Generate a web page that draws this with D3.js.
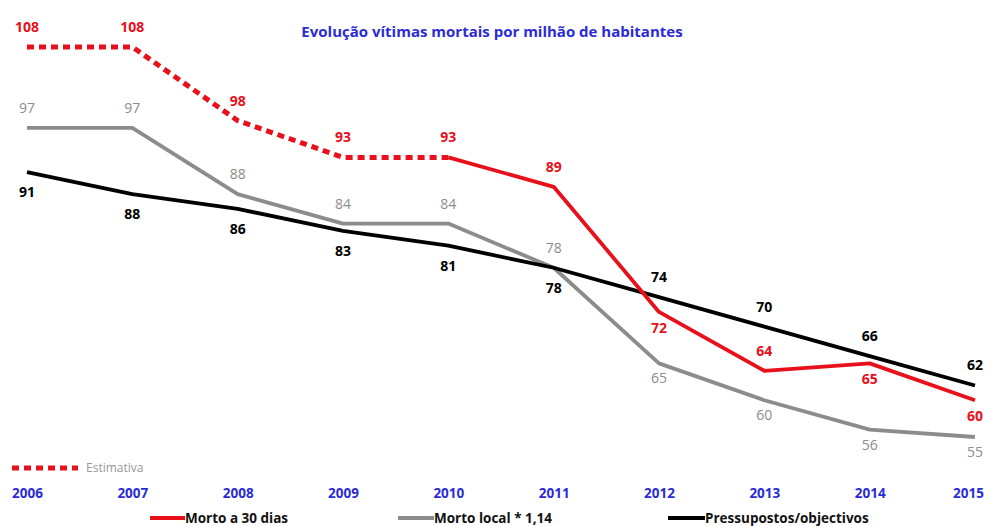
<!DOCTYPE html>
<html><head><meta charset="utf-8">
<script src="https://cdn.jsdelivr.net/npm/d3@7"></script>
<style>body{margin:0;background:#fff}svg{display:block;font-family:"Open Sans","Liberation Sans",sans-serif}</style>
</head><body><svg id="c" width="993" height="526"></svg>
<script>
const years = [2006,2007,2008,2009,2010,2011,2012,2013,2014,2015];
const estimativa = [108,108,98,93,93];        // 2006-2010 estimate
const morto30 = [null,null,null,null,93,89,72,64,65,60];
const mortoLocal = [97,97,88,84,84,78,65,60,56,55];
const pressupostos = [91,88,86,83,81,78,74,70,66,62];
const title = "Evolução vítimas mortais por milhão de habitantes";

// label placement (+1 below, -1 above)
const posEst = [-1,-1,-1,-1,-1];
const posM30 = [0,0,0,0,0,-1,1,-1,1,1];
const posLoc = [-1,-1,-1,-1,-1,-1,1,1,1,1];
const posPre = [1,1,1,1,1,1,-1,-1,-1,-1];

const svg = d3.select("#c");
const x = d3.scaleLinear().domain([2006,2015]).range([27,975]);
const y = d3.scaleLinear().domain([55,108]).range([437,47]);
const line = d3.line().defined(d=>d[1]!=null).x(d=>x(d[0])).y(d=>y(d[1]));

const RED="#e8101a", GREY="#8c8c8c", BLACK="#000";

svg.append("text").attr("x",492).attr("y",37).attr("text-anchor","middle")
  .attr("fill","#2b2bd6").attr("font-weight","bold").attr("font-size",15).text(title);

function drawLine(vals, color, w, dash){
  const p = svg.append("path").datum(years.map((yr,i)=>[yr, vals[i]===undefined?null:vals[i]]))
    .attr("d",line).attr("fill","none").attr("stroke",color).attr("stroke-width",w)
    .attr("stroke-linejoin","round");
  if(dash) p.attr("stroke-dasharray",dash);
}
drawLine(mortoLocal, GREY, 3.8);
drawLine(pressupostos, BLACK, 3.8);
drawLine(morto30, RED, 3.8);
drawLine(estimativa, RED, 5, "7,5");

function labels(vals, pos, color, weight, below){
  years.forEach((yr,i)=>{
    const v = vals[i];
    if(v==null || !pos[i]) return;
    const off = pos[i] > 0 ? below : 20;
    svg.append("text").attr("x",x(yr)).attr("y",y(v)+pos[i]*off+5)
      .attr("text-anchor","middle").attr("fill",color).attr("font-size",14)
      .attr("font-weight",weight).text(v);
  });
}
labels(estimativa, posEst, RED, "bold", 20);
labels(morto30, posM30, RED, "bold", 16);
labels(mortoLocal, posLoc, GREY, "normal", 15);
labels(pressupostos, posPre, BLACK, "bold", 20);

// x axis labels
const xa = svg.append("g").attr("transform","translate(0,485)")
  .call(d3.axisBottom(x).tickValues(years).tickFormat(d3.format("d")).tickSize(0));
xa.select(".domain").remove();
xa.selectAll("text").attr("fill","#2b2bd6").attr("font-weight","bold").attr("font-size",13.5)
  .attr("font-family","'Open Sans','Liberation Sans',sans-serif")
  .attr("x",d=>d===2015?-7:0);

// Estimativa legend
svg.append("line").attr("x1",12).attr("x2",78).attr("y1",468).attr("y2",468)
  .attr("stroke",RED).attr("stroke-width",5).attr("stroke-dasharray","7,5");
svg.append("text").attr("x",86).attr("y",472).attr("fill","#999").attr("font-size",12).text("Estimativa");

// bottom legend
const leg = [["Morto a 30 dias",RED,150,185],["Morto local * 1,14",GREY,398,434],["Pressupostos/objectivos",BLACK,668,705]];
leg.forEach(l=>{
  svg.append("line").attr("x1",l[2]).attr("x2",l[3]).attr("y1",518).attr("y2",518)
    .attr("stroke",l[1]).attr("stroke-width",3.8);
  svg.append("text").attr("x",l[3]).attr("y",523).attr("font-size",13.5).attr("font-weight","bold")
    .attr("fill","#111").text(l[0]);
});
</script></body></html>
